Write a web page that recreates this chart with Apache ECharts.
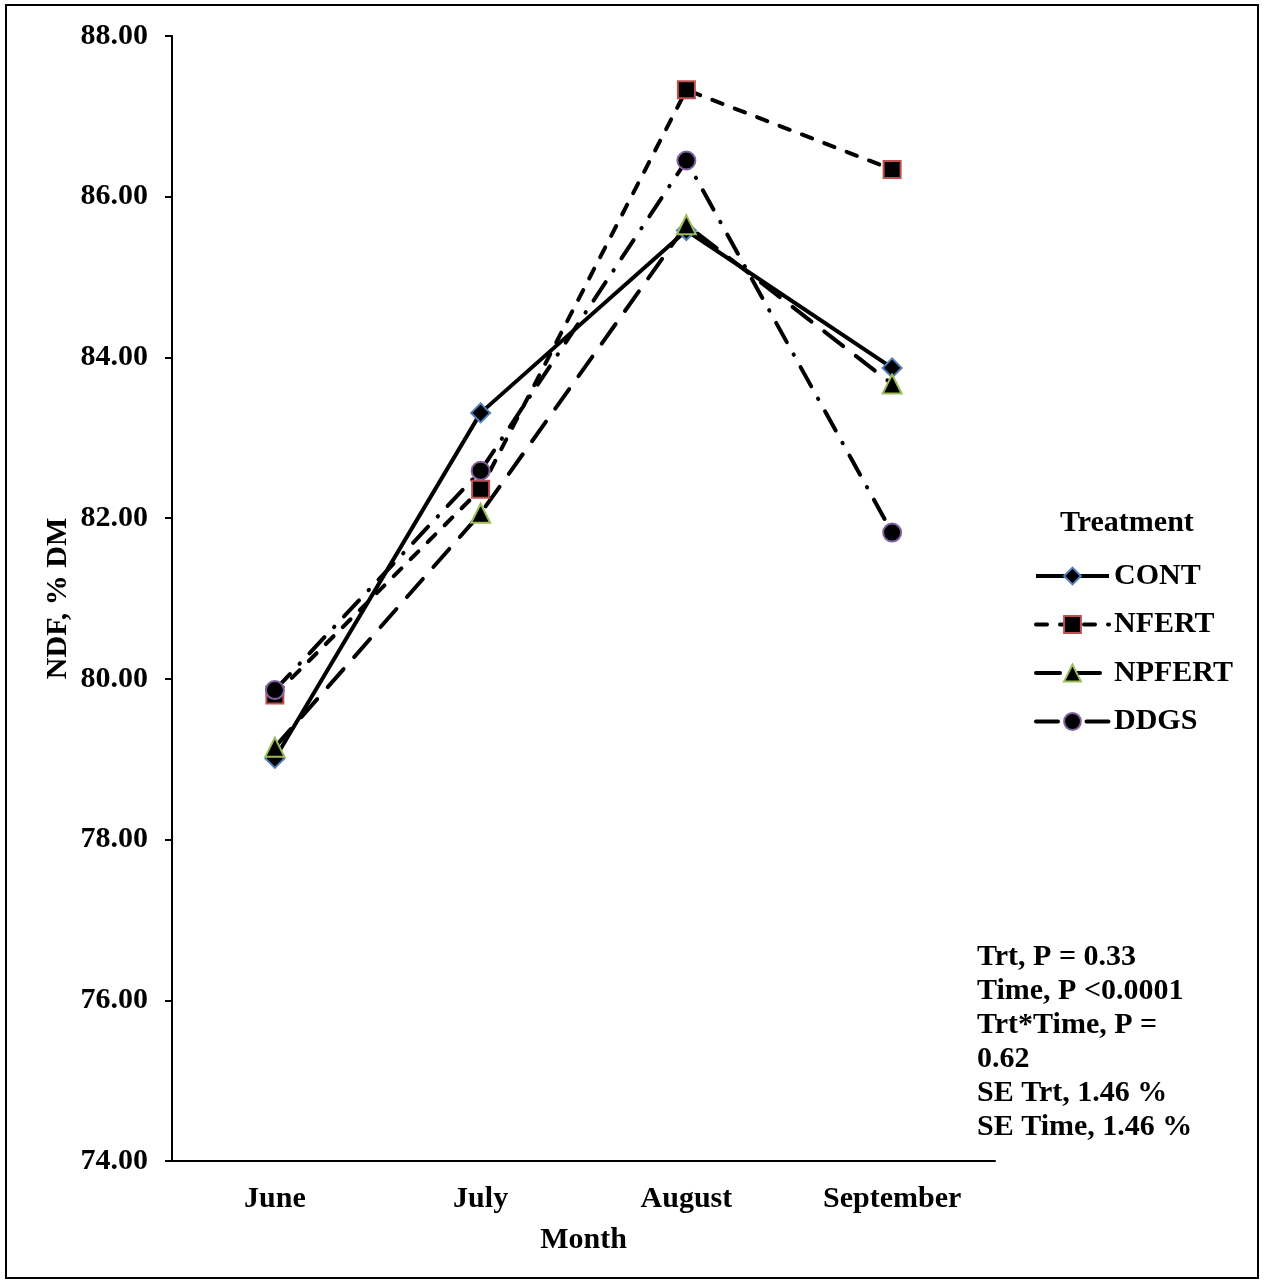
<!DOCTYPE html>
<html><head><meta charset="utf-8">
<script src="https://cdn.jsdelivr.net/npm/echarts@6/dist/echarts.min.js"></script>
<style>html,body{margin:0;padding:0;background:#fff}#c{width:1264px;height:1283px}</style>
</head><body><div id="c"></div>
<script>
const months = ['June', 'July', 'August', 'September'];
const CONT = [79.01, 83.31, 85.58, 83.87];
const NFERT = [79.80, 82.36, 87.33, 86.34];
const NPFERT = [79.15, 82.06, 85.65, 83.67];
const DDGS = [79.86, 82.59, 86.45, 81.82];
const yTicks = {min: 74, max: 88, interval: 2};
const statsText = ['Trt, P = 0.33', 'Time, P <0.0001', 'Trt*Time, P =', '0.62', 'SE Trt, 1.46 %', 'SE Time, 1.46 %'];

const FONT = '"Liberation Serif", "Times New Roman", serif';
const FS = 30;
const chart = echarts.init(document.getElementById('c'), null, {renderer: 'canvas'});
const styles = {
  CONT: {symbol: 'diamond', size: 19, border: '#4F81BD', dash: 'solid', cap: 'butt'},
  NFERT: {symbol: 'rect', size: 17, border: '#C0504D', dash: [11, 13], cap: 'round'},
  NPFERT: {symbol: 'triangle', size: 19, border: '#9BBB59', dash: [24, 16], cap: 'round'},
  DDGS: {symbol: 'circle', size: 18, border: '#8064A2', dash: [22, 14, 0.5, 14], cap: 'round'}
};
function mk(name, data) {
  const s = styles[name];
  return {
    name, type: 'line', data, symbol: s.symbol, symbolSize: s.size,
    itemStyle: {color: '#000', borderColor: s.border, borderWidth: 2},
    lineStyle: {color: '#000', width: 4, type: s.dash, cap: s.cap},
    emphasis: {disabled: true}, animation: false
  };
}
const legendData = Object.keys(styles).map(n => ({
  name: n,
  lineStyle: {width: 4, color: '#000', type: styles[n].dash, cap: styles[n].cap}
}));
chart.setOption({
  animation: false,
  textStyle: {fontFamily: FONT},
  grid: {left: 172, top: 36, right: 269, bottom: 122, containLabel: false},
  xAxis: {
    type: 'category', data: months, boundaryGap: true,
    axisLine: {lineStyle: {color: '#000', width: 2}},
    axisTick: {show: false},
    axisLabel: {color: '#000', fontWeight: 'bold', fontSize: FS, fontFamily: FONT, margin: 23},
    name: 'Month', nameLocation: 'middle', nameGap: 64,
    nameTextStyle: {color: '#000', fontWeight: 'bold', fontSize: FS, fontFamily: FONT}
  },
  yAxis: {
    type: 'value', min: yTicks.min, max: yTicks.max, interval: yTicks.interval,
    axisLine: {show: true, lineStyle: {color: '#000', width: 2}},
    axisTick: {show: true, length: 7, lineStyle: {color: '#000', width: 2}},
    splitLine: {show: false},
    axisLabel: {color: '#000', fontWeight: 'bold', fontSize: FS, fontFamily: FONT, margin: 24,
      formatter: v => v.toFixed(2)},
    name: 'NDF, % DM', nameLocation: 'middle', nameGap: 99, nameRotate: 90, nameMoveOverlap: false,
    nameTextStyle: {color: '#000', fontWeight: 'bold', fontSize: FS, fontFamily: FONT}
  },
  legend: {
    orient: 'vertical', left: 1034, top: 561, padding: 0, itemWidth: 73, itemHeight: 21, itemGap: 18.5,
    textStyle: {color: '#000', fontWeight: 'bold', fontSize: FS, fontFamily: FONT},
    lineStyle: {width: 4},
    data: legendData
  },
  graphic: [
    {type: 'rect', shape: {x: 6, y: 5, width: 1252, height: 1273}, style: {fill: 'none', stroke: '#000', lineWidth: 2}, z: -1},
    {type: 'text', left: 1060, top: 508, style: {text: 'Treatment', fill: '#000', font: 'bold ' + FS + 'px ' + FONT}},
    {type: 'text', left: 977, top: 940, style: {text: statsText.join('\n'), fill: '#000', font: 'bold ' + FS + 'px ' + FONT, lineHeight: 34}}
  ],
  series: [
    mk('CONT', CONT),
    mk('NFERT', NFERT),
    mk('NPFERT', NPFERT),
    mk('DDGS', DDGS)
  ]
});
</script></body></html>
